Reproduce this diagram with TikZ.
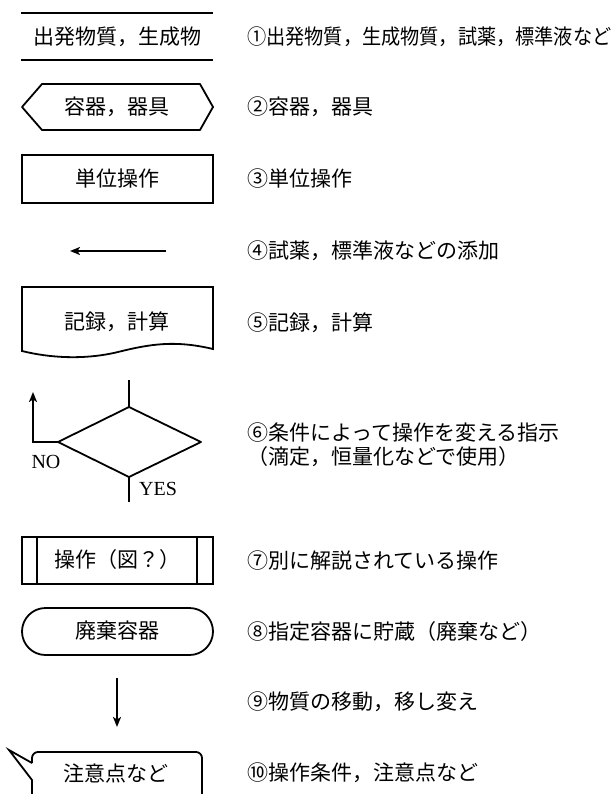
\documentclass[tikz,border=0pt]{standalone}
\usepackage{fontspec}
\setmainfont{Liberation Serif}
\newfontfamily\jp{Noto Sans CJK JP}
\usetikzlibrary{arrows.meta}
\tikzset{
  shp/.style={line width=1.8pt},
  arr/.style={line width=1.8pt,-{Stealth[length=10pt,width=8pt,inset=2.5pt]}},
  lbl/.style={inner sep=0pt,font=\jp\fontsize{21}{25}\selectfont},
  desc/.style={inner sep=0pt,anchor=west,font=\jp\fontsize{21}{25}\selectfont},
  yn/.style={inner sep=0pt,font=\fontsize{20}{24}\selectfont}
}
\begin{document}
\begin{tikzpicture}[x=1pt,y=-1pt]
\useasboundingbox (0,0) rectangle (611,794);
% 1
\draw[shp] (21,13) -- (213,13);
\draw[shp] (21,60) -- (213,60);
\node[lbl] (s1) at (117,37) {出発物質，生成物};
% 2
\draw[shp,line join=round] (22,107) -- (42,84) -- (200,84) -- (213,107) -- (200,130) -- (42,130) -- cycle;
\node[lbl] (s2) at (117,107) {容器，器具};
% 3
\draw[shp] (22,155) rectangle (213,203);
\node[lbl] (s3) at (117,179) {単位操作};
% 4
\coordinate (a4s) at (166,251);
\coordinate (a4e) at (70,251);
\draw[arr] (a4s) -- (a4e);
% 5
\draw[shp] (22,287) -- (213,287) -- (213,349) .. controls (175,340) and (150,344) .. (118,352) .. controls (85,360) and (50,358) .. (22,351) -- cycle;
\node[lbl] (s5) at (117,322) {記録，計算};
% 6
\coordinate (dt) at (129,407);
\coordinate (dr) at (201,442);
\coordinate (db) at (129,477);
\coordinate (dl) at (58,442);
\coordinate (din) at (129,380);
\coordinate (dout) at (129,502);
\coordinate (dno) at (33,442);
\coordinate (dnoe) at (33,392);
\draw[shp,line join=round] (dt) -- (dr) -- (db) -- (dl) -- cycle;
\draw[shp] (din) -- (dt);
\draw[shp] (db) -- (dout);
\draw[arr] (dl) -- (dno) -- (dnoe);
\node[yn] (no) at (46,462) {NO};
\node[yn] (yes) at (158,489) {YES};
% 7
\draw[shp] (22,537) rectangle (213,584);
\draw[shp] (37,537) -- (37,584);
\draw[shp] (197,537) -- (197,584);
\node[lbl] (s7) at (117,560) {操作（図？）};
% 8
\draw[shp,rounded corners=23.5pt] (22,608) rectangle (213,655);
\node[lbl] (s8) at (117,631) {廃棄容器};
% 9
\coordinate (a9s) at (117,678);
\coordinate (a9e) at (117,727);
\draw[arr] (a9s) -- (a9e);
% 10
\draw[shp,rounded corners=6pt] (32,763) -- (32,752) -- (202,752) -- (202,800);
\draw[shp,line join=miter] (32,763) -- (9,750) -- (32,780) -- (32,800);
\node[lbl] (s10) at (116,773) {注意点など};
% descriptions
\node[desc] (d1) at (247,37) {\scalebox{0.913}[1]{①出発物質，生成物質，試薬，標準液など}};
\node[desc] (d2) at (247,107) {②容器，器具};
\node[desc] (d3) at (247,179) {③単位操作};
\node[desc] (d4) at (247,251) {④試薬，標準液などの添加};
\node[desc] (d5) at (247,323) {⑤記録，計算};
\node[desc] (d6a) at (247,433) {⑥条件によって操作を変える指示};
\node[desc] (d6b) at (247,457) {（滴定，恒量化などで使用）};
\node[desc] (d7) at (247,561) {⑦別に解説されている操作};
\node[desc] (d8) at (247,632) {⑧指定容器に貯蔵（廃棄など）};
\node[desc] (d9) at (247,702) {⑨物質の移動，移し変え};
\node[desc] (d10) at (247,773) {⑩操作条件，注意点など};
\end{tikzpicture}
\end{document}
